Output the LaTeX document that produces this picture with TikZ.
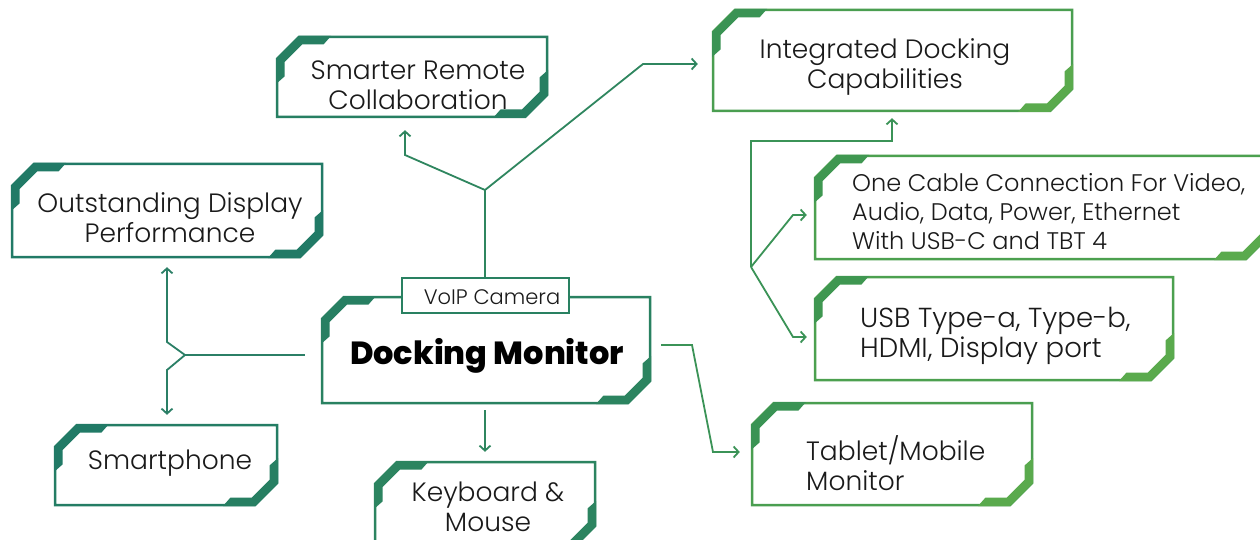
\documentclass[tikz,border=0pt]{standalone}
\usepackage{fontspec}
\setmainfont{Poppins Light}[BoldFont={Poppins Bold}]
\newfontfamily\heavyfont{Poppins ExtraBold}
\usetikzlibrary{fit,arrows.meta}
\definecolor{txtc}{HTML}{1A1A1A}
\definecolor{gA}{HTML}{217A66}
\definecolor{gB}{HTML}{277F62}
\definecolor{gC}{HTML}{2C8460}
\definecolor{gD}{HTML}{3A9354}
\definecolor{gE}{HTML}{3F9751}
\definecolor{gF}{HTML}{5AAA4D}
\definecolor{cL}{HTML}{2B7F66}
\definecolor{cM}{HTML}{2F865F}
\definecolor{cR}{HTML}{3B9357}
\def\cc{22}
\def\ww{7.5}
\def\LL{54}
\def\MM{47}
\newcommand\gcard[7]{%
  \node[fit={(#2,#3) (#4,#5)}, inner sep=0pt, draw=none] (#1) {};
  \draw[outline, draw=#6!50!#7] (#2,{#3+\cc}) -- ({#2+\cc},#3) -- (#4,#3) -- (#4,{#5-\cc}) -- ({#4-\cc},#5) -- (#2,#5) -- cycle;
  \fill[#6] ({#2-1},{#3+\MM}) -- ({#2-1},{#3+\cc}) -- ({#2+\cc},{#3-1}) -- ({#2+\LL},{#3-1}) -- ({#2+\LL-\ww},{#3+\ww}) -- ({#2+\cc+0.414*\ww},{#3+\ww}) -- ({#2+\ww},{#3+\cc+0.414*\ww}) -- ({#2+\ww},{#3+\MM-\ww}) -- cycle;
  \fill[#7] ({#4+1},{#5-\MM}) -- ({#4+1},{#5-\cc}) -- ({#4-\cc},{#5+1}) -- ({#4-\LL},{#5+1}) -- ({#4-\LL+\ww},{#5-\ww}) -- ({#4-\cc-0.414*\ww},{#5-\ww}) -- ({#4-\ww},{#5-\cc-0.414*\ww}) -- ({#4-\ww},{#5-\MM+\ww}) -- cycle;
}
\begin{document}
\begin{tikzpicture}[x=1pt,y=-1pt,
  outline/.style={line width=2.5pt, line join=miter},
  conn/.style={line width=1.8pt, draw=#1},
  arr/.style={-{Straight Barb[length=5pt,width=11pt]}},
  txt/.style={font=\fontsize{26.5}{30}\selectfont, text=txtc, inner sep=0pt, align=center},
  ltxt/.style={txt, align=left, anchor=west}]
\useasboundingbox (0,0) rectangle (1260,540);
\fill[white] (0,0) rectangle (1260,540);

% cards
\gcard{od}{12}{164}{322}{257}{gA}{gA}
\gcard{sp}{55}{425}{277}{505}{gA}{gB}
\gcard{srm}{277}{37}{547}{117}{gB}{gB}
\gcard{dm}{322}{297}{650}{403}{gB}{gC}
\gcard{kb}{375}{462}{595}{548}{gC}{gC}
\gcard{idc}{713}{10}{1072}{111}{gD}{gF}
\gcard{oc}{815}{156}{1268}{259}{gE}{gF}
\gcard{usb}{815}{277}{1173}{380}{gE}{gF}
\gcard{tb}{752}{403}{1032}{505}{gD}{gF}

% VoIP tab
\node[fit={(402,278) (569,313)}, inner sep=0pt, fill=white, draw=gB!50!gC, line width=2.5pt] (vt) {};
\node[txt, font=\fontsize{21}{24}\selectfont] (vtt) at (492,297) {VoIP Camera};

% texts
\node[txt] (odt) at (170,218) {Outstanding Display\\Performance};
\node[txt] (spt) at (170,463) {Smartphone};
\node[txt] (srmt) at (418,85) {Smarter Remote\\Collaboration};
\node[txt, font=\fontsize{32}{36}\heavyfont, text=black] (dmt) at (487,356) {Docking Monitor};
\node[txt] (kbt) at (488,507) {Keyboard \&\\Mouse};
\node[txt] (idct) at (885,67) {Integrated Docking\\Capabilities};
\node[ltxt, font=\fontsize{24}{29}\selectfont] (oct) at (852,212) {One Cable Connection For Video,\\Audio, Data, Power, Ethernet\\With USB-C and TBT 4};
\node[ltxt, font=\fontsize{27.5}{30}\selectfont] (usbt) at (860,336) {USB Type-a, Type-b,\\HDMI, Display port};
\node[ltxt] (tbt) at (806,463) {Tablet/Mobile\\Monitor};

% connectors: left group
\coordinate (jl) at (185,355);
\coordinate (jlu) at (167,342);
\coordinate (jld) at (167,370);
\draw[conn=cL, shorten <=17pt] (dm.west |- jl) -- (jl);
\draw[conn=cL, arr, shorten >=10pt] (jl) -- (jlu) -- (jlu |- od.south);
\draw[conn=cL, arr, shorten >=10pt] (jl) -- (jld) -- (jld |- sp.north);

% top group
\coordinate (jt) at (485,190);
\coordinate (jtl) at (405,155);
\coordinate (jtr) at (643,64);
\draw[conn=cM] (vt.north -| jt) -- (jt);
\draw[conn=cM, arr, shorten >=13pt] (jt) -- (jtl) -- (jtl |- srm.south);
\draw[conn=cM, arr, shorten >=15pt] (jt) -- (jtr) -- (jtr -| idc.west);

% down
\draw[conn=cM, arr, shorten <=7pt, shorten >=10pt] (dm.south -| jt) -- (jt |- kb.north);

% right to tablet
\coordinate (dmr) at (650,345);
\coordinate (rb1) at (692,345);
\coordinate (rb2) at (713,452);
\draw[conn=cR, arr, shorten <=11pt, shorten >=12pt] (dmr) -- (rb1) -- (rb2) -- (rb2 -| tb.west);

% bracket group
\coordinate (bt) at (751,141);
\coordinate (bj) at (751,267);
\coordinate (bu) at (892,141);
\coordinate (b1) at (793,215);
\coordinate (b2) at (793,337);
\draw[conn=cR, arr, shorten >=7pt] (bj) -- (bt) -- (bu) -- (bu |- idc.south);
\draw[conn=cR, arr, shorten >=8pt] (bj) -- (b1) -- (b1 -| oc.west);
\draw[conn=cR, arr, shorten >=8pt] (bj) -- (b2) -- (b2 -| usb.west);
\end{tikzpicture}
\end{document}
